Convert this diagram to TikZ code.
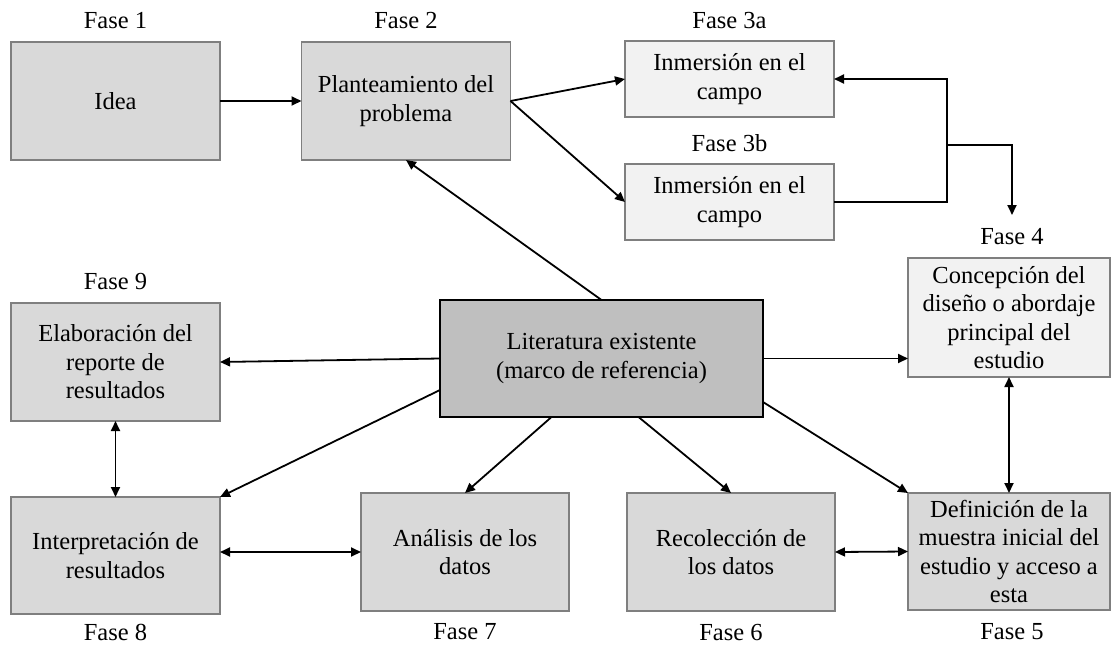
\documentclass[tikz,border=0pt]{standalone}
\usepackage{fontspec}
\setmainfont{Liberation Serif}
\usetikzlibrary{arrows.meta,calc}
\definecolor{boxgray}{HTML}{7F7F7F}
\definecolor{fillA}{HTML}{D9D9D9}
\definecolor{fillB}{HTML}{F2F2F2}
\definecolor{fillC}{HTML}{BFBFBF}
\begin{document}
\begin{tikzpicture}[x=1pt,y=-1pt,
  every node/.style={font=\fontsize{24.5}{28.5}\selectfont},
  box/.style={draw=boxgray, fill=fillA, line width=1.5pt, align=center, inner sep=0pt, outer sep=0pt, minimum width=209pt, minimum height=118pt},
  pale/.style={box, fill=fillB},
  litbox/.style={box, fill=fillC, draw=black, line width=2.2pt},
  lab/.style={inner sep=0pt},
  arr/.style={line width=1.8pt, -{Triangle[length=10pt,width=9pt]}},
  dbl/.style={line width=1.8pt, {Triangle[length=10pt,width=9pt]}-{Triangle[length=10pt,width=9pt]}}
]
\useasboundingbox (0,0) rectangle (1111,646);
% boxes
\node[box] (idea) at (115.5,101) {Idea};
\node[box] (plant) at (406,101) {Planteamiento del\\problema};
\node[pale, minimum height=76pt] (ia) at (729.5,79) {Inmersión en el\\campo};
\node[pale, minimum height=76pt] (ib) at (729.5,202) {Inmersión en el\\campo};
\node[pale, minimum width=202pt, minimum height=119pt] (f4) at (1009,317.5) {Concepción del\\diseño o abordaje\\principal del\\estudio};
\node[box] (elab) at (115.5,362) {Elaboración del\\reporte de\\resultados};
\node[litbox, minimum width=323pt, minimum height=117pt] (lit) at (601.5,358.5) {Literatura existente\\(marco de referencia)};
\node[box, minimum height=117pt] (interp) at (115.5,555.5) {Interpretación de\\resultados};
\node[box, minimum width=208pt] (ana) at (465,552) {Análisis de los\\datos};
\node[box, minimum width=208pt] (rec) at (731,552) {Recolección de\\los datos};
\node[box, minimum width=202pt, minimum height=117pt] (def) at (1009,551.5) {Definición de la\\muestra inicial del\\estudio y acceso a\\esta};
% phase labels
\node[lab] (l1) at (115.5,21) {Fase 1};
\node[lab] (l2) at (406,21) {Fase 2};
\node[lab] (l3a) at (729.5,21) {Fase 3a};
\node[lab] (l3b) at (729.5,143) {Fase 3b};
\node[lab] (l4) at (1012,237) {Fase 4};
\node[lab] (l9) at (115.5,282) {Fase 9};
\node[lab] (l8) at (115.5,632) {Fase 8};
\node[lab] (l7) at (465,632) {Fase 7};
\node[lab] (l6) at (731,632) {Fase 6};
\node[lab] (l5) at (1012,632) {Fase 5};
% connectors
\coordinate (bx) at (947,145);
\coordinate (f4in) at (1012,215);
\draw[arr] (idea.east) -- (plant.west);
\draw[arr] (plant.east) -- (ia.west);
\draw[arr] (plant.east) -- (ib.west);
\draw[arr] (ib.east) -| (bx) |- (ia.east);
\draw[arr] (bx) -| (f4in);
\draw[arr] (lit.north) -- (plant.south);
\draw[arr] (lit.west) -- (elab.east);
\draw[arr] (lit.east) -- (lit.east -| f4.west);
\draw[arr] ([yshift=27pt]lit.south west) -- (interp.north east);
\draw[arr] ([xshift=-50pt]lit.south) -- (ana.north);
\draw[arr] ([xshift=37pt]lit.south) -- (rec.north);
\draw[arr] ([yshift=15pt]lit.south east) -- (def.north west);
\draw[dbl] (elab.south) -- (interp.north);
\draw[dbl] (ana.west -| interp.east) -- (ana.west);
\draw[dbl] (rec.east) -- (def.west);
\draw[dbl] (f4.south) -- (def.north);
\end{tikzpicture}
\end{document}
